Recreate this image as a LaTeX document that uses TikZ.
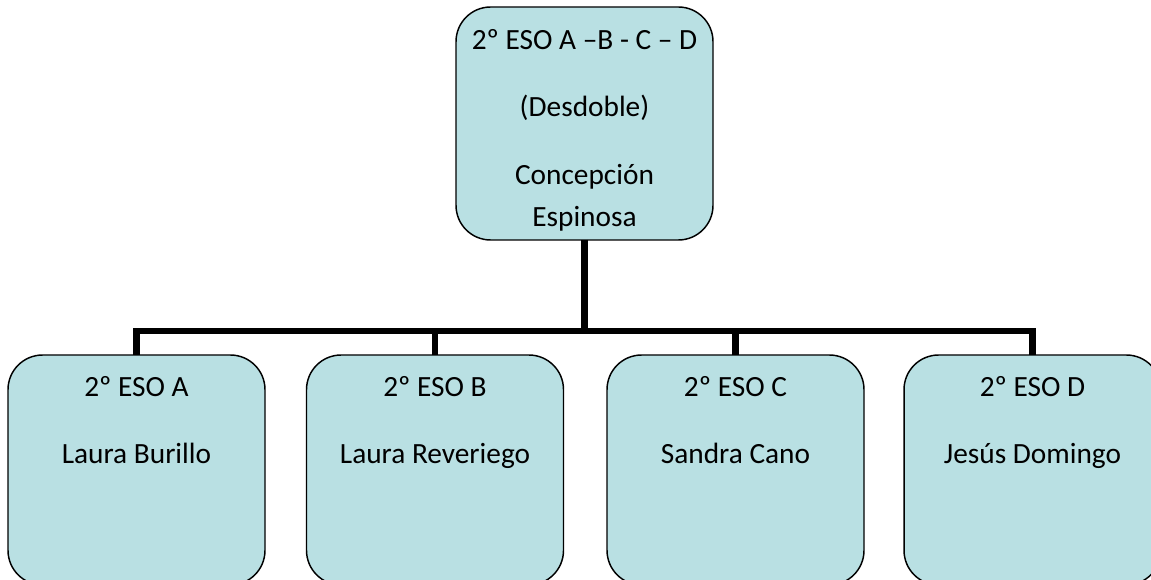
\documentclass[tikz,border=0pt]{standalone}
\usepackage{fontspec}
\setmainfont{Carlito}
\definecolor{boxfill}{RGB}{185,224,227}
\begin{document}
\begin{tikzpicture}[x=0.75pt,y=-0.75pt,
  box/.style={draw=black,line width=1.1pt,fill=boxfill,rounded corners=26pt,
    rectangle,inner sep=0pt,outer sep=0pt,minimum width=192.75pt},
  topbox/.style={box,minimum height=174.75pt},
  botbox/.style={box,minimum height=172.5pt},
  lbl/.style={anchor=base,inner sep=0pt,font=\fontsize{22}{26}\selectfont},
  conn/.style={line width=4.6pt,line join=miter,line cap=butt}]
\useasboundingbox (0,0) rectangle (1151,580);
\clip (0,0) rectangle (1151,580);
% boxes
\node[topbox] (top) at (584.5,123.5) {};
\node[botbox] (a) at (136.5,470) {};
\node[botbox] (b) at (435,470) {};
\node[botbox] (c) at (735.5,470) {};
\node[botbox] (d) at (1032.5,470) {};
% connectors
\coordinate (j) at (584.5,331);
\draw[conn] (top.south) -- (j);
\draw[conn] (a.north) -- (a.north |- j) -- (d.north |- j) -- (d.north);
\draw[conn] (b.north) -- (b.north |- j);
\draw[conn] (c.north) -- (c.north |- j);
% texts
\node[lbl] (t1) at (584.5,50) {2º ESO A –B - C – D};
\node[lbl] (t2) at (584.5,117) {(Desdoble)};
\node[lbl] (t3) at (584.5,185) {Concepción};
\node[lbl] (t4) at (584.5,227) {Espinosa};
\node[lbl] (a1) at (136.5,396) {2º ESO A};
\node[lbl] (a2) at (136.5,463) {Laura Burillo};
\node[lbl] (b1) at (435,396) {2º ESO B};
\node[lbl] (b2) at (435,463) {Laura Reveriego};
\node[lbl] (c1) at (735.5,396) {2º ESO C};
\node[lbl] (c2) at (735.5,463) {Sandra Cano};
\node[lbl] (d1) at (1032.5,396) {2º ESO D};
\node[lbl] (d2) at (1032.5,463) {Jesús Domingo};
\end{tikzpicture}
\end{document}
